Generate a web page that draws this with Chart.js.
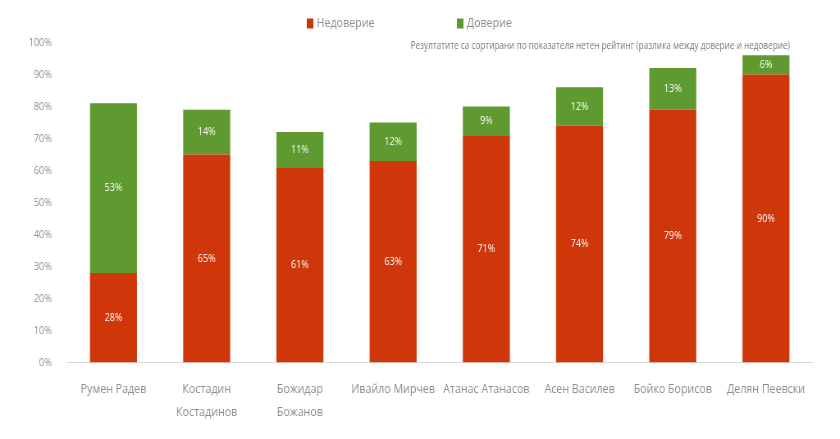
<!DOCTYPE html>
<html>
<head>
<meta charset="utf-8">
<script src="https://cdn.jsdelivr.net/npm/chart.js@4"></script>
<style>
  html, body { margin: 0; padding: 0; background: #fff; overflow: hidden; }
  #wrap { width: 1024px; height: 439px; transform: scaleX(0.8203); transform-origin: 0 0; }
</style>
</head>
<body>
<div id="wrap">
  <canvas id="ratings" width="1024" height="439"></canvas>
</div>
<script>
  var names = [
    "Румен Радев",
    ["Костадин", "Костадинов"],
    ["Божидар", "Божанов"],
    "Ивайло Мирчев",
    "Атанас Атанасов",
    "Асен Василев",
    "Бойко Борисов",
    "Делян Пеевски"
  ];
  var distrust = [28, 65, 61, 63, 71, 74, 79, 90];
  var trust = [53, 14, 11, 12, 9, 12, 13, 6];
  var seriesNames = ["Недоверие", "Доверие"];
  var yTicks = [0, 10, 20, 30, 40, 50, 60, 70, 80, 90, 100];
  var note = "Резултатите са сортирани по показателя нетен рейтинг (разлика между доверие и недоверие)";

  var grey = "#8c8c8c";

  // white percent labels in the middle of each segment
  var segLabels = {
    id: "segLabels",
    afterDatasetsDraw: function(chart) {
      var ctx = chart.ctx;
      ctx.save();
      ctx.fillStyle = "#fff";
      ctx.font = "11px 'Open Sans'";
      ctx.textAlign = "center";
      ctx.textBaseline = "middle";
      chart.data.datasets.forEach(function(ds, i) {
        chart.getDatasetMeta(i).data.forEach(function(bar, j) {
          var mid = (bar.y + bar.base) / 2;
          ctx.fillText(ds.data[j] + "%", bar.x, mid);
        });
      });
      ctx.restore();
    }
  };

  // legend + note at the top
  var header = {
    id: "header",
    afterDraw: function(chart) {
      var ctx = chart.ctx;
      var ds = chart.data.datasets;
      var spots = [374, 557];
      ctx.save();
      ctx.textBaseline = "middle";
      ctx.font = "13px 'Open Sans'";
      ds.forEach(function(d, i) {
        ctx.fillStyle = d.backgroundColor;
        ctx.fillRect(spots[i], 18.5, 8, 10);
        ctx.fillStyle = grey;
        ctx.textAlign = "left";
        ctx.fillText(d.label, spots[i] + 12, 23.5);
      });
      ctx.font = "10px 'Open Sans'";
      ctx.fillStyle = "#7a7a7a";
      ctx.textAlign = "right";
      ctx.fillText(note, 963, 46);
      ctx.restore();
    }
  };

  var chart = new Chart(document.getElementById("ratings"), {
    type: "bar",
    data: {
      labels: names,
      datasets: [{
        label: seriesNames[0],
        data: distrust,
        backgroundColor: "#cf360a"
      }, {
        label: seriesNames[1],
        data: trust,
        backgroundColor: "#5e9a2f"
      }]
    },
    options: {
      responsive: false,
      animation: false,
      layout: { padding: { top: 42.5, right: 33.4, left: 0, bottom: 0 } },
      datasets: { bar: { categoryPercentage: 1, barPercentage: 0.504 } },
      plugins: {
        legend: { display: false },
        tooltip: { enabled: false }
      },
      scales: {
        x: {
          stacked: true,
          grid: { display: false },
          border: { display: true, color: "#d9d9d9", width: 1 },
          ticks: {
            color: grey,
            font: { family: "'Open Sans'", size: 13, lineHeight: 1.77 },
            padding: 7,
            maxRotation: 0,
            autoSkip: false
          },
          afterFit: function(scale) { scale.height = 76.5; }
        },
        y: {
          stacked: true,
          min: 0,
          max: 100,
          grid: { display: false },
          border: { display: false },
          afterBuildTicks: function(scale) {
            scale.ticks = yTicks.map(function(v) { return { value: v }; });
          },
          ticks: {
            color: grey,
            font: { family: "'Open Sans'", size: 11 },
            padding: 10.5,
            callback: function(v) { return v + "%"; }
          },
          afterFit: function(scale) { scale.width = 81.5; }
        }
      }
    },
    plugins: [segLabels, header]
  });
</script>
</body>
</html>
